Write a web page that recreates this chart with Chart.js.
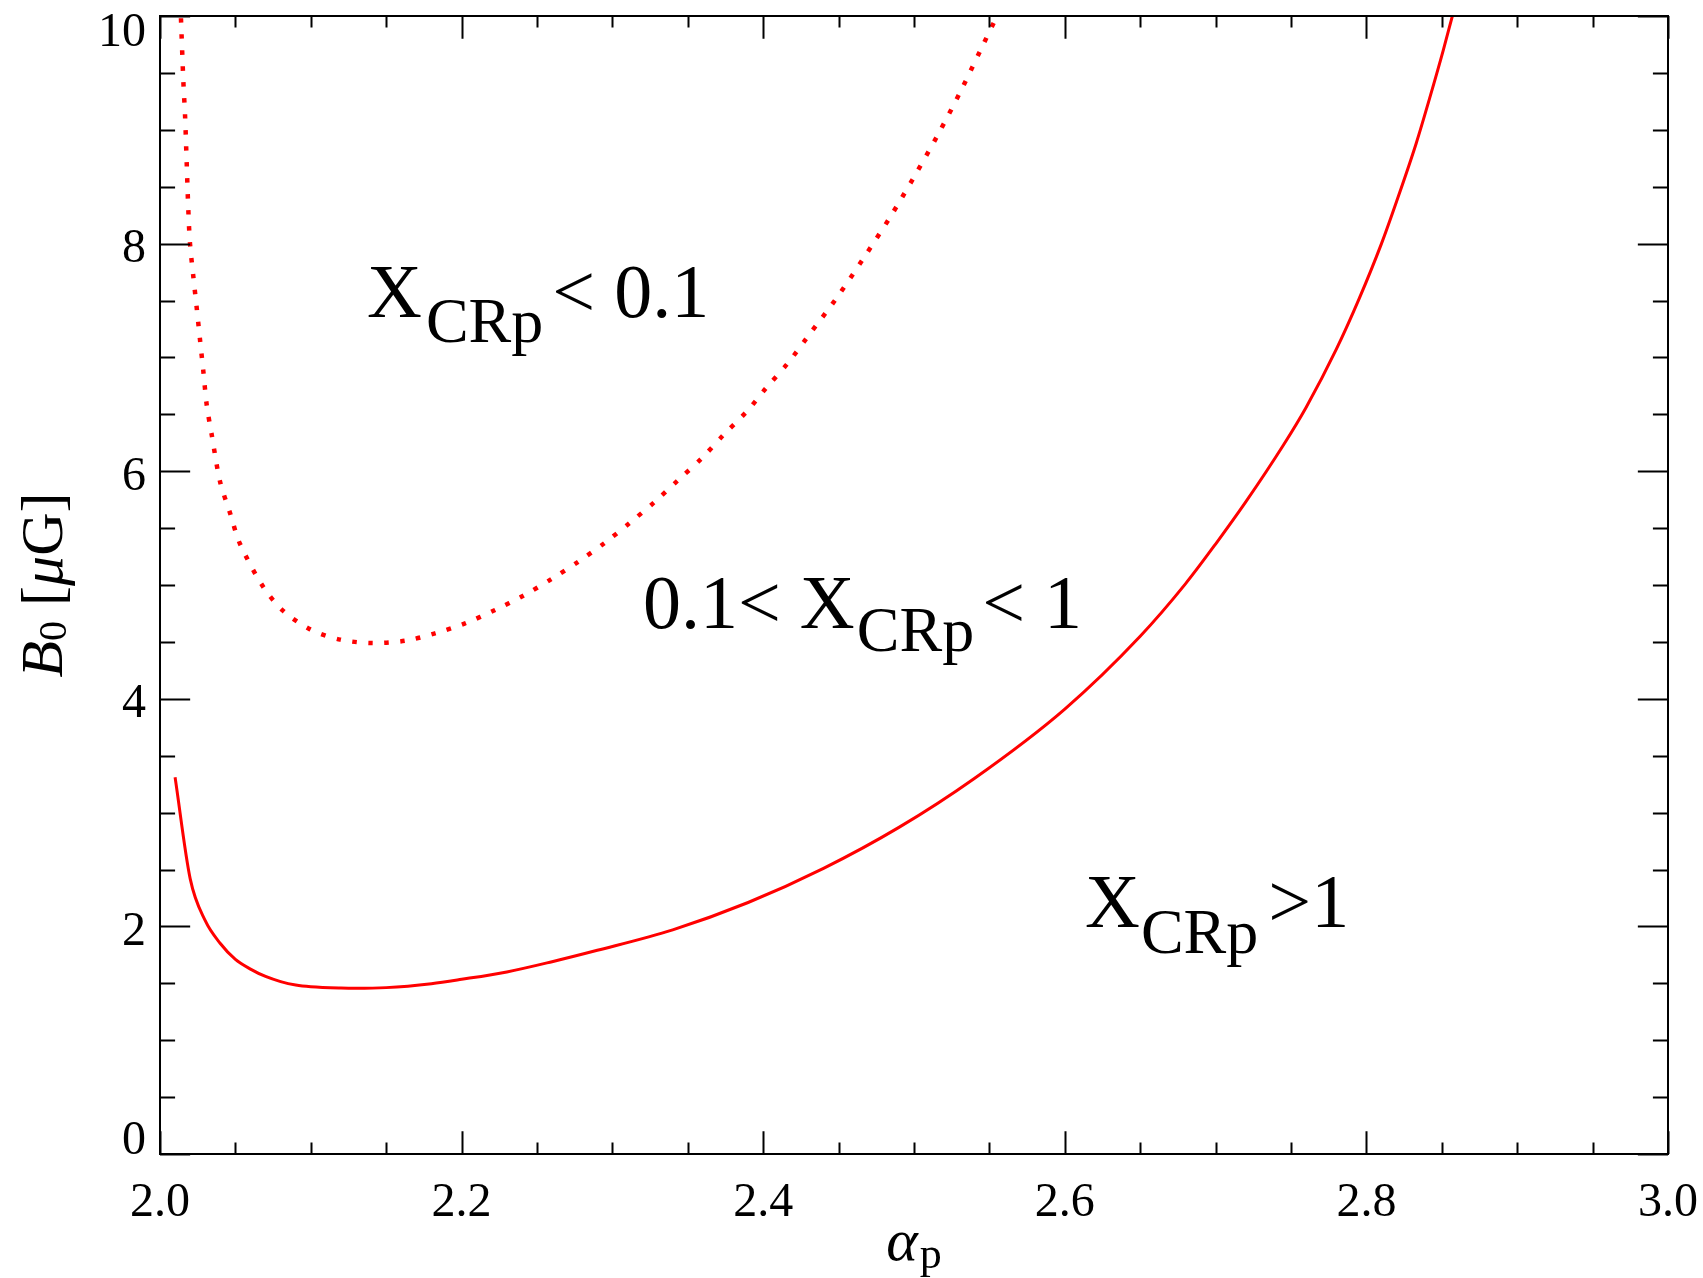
<!DOCTYPE html>
<html>
<head>
<meta charset="utf-8">
<title>B0 vs alpha_p</title>
<script src="https://cdn.jsdelivr.net/npm/chart.js@4.4.1/dist/chart.umd.min.js"></script>
<style>
    html, body { margin: 0; padding: 0; background: #ffffff; }
    #wrap { width: 1703px; height: 1278px; }
</style>
</head>
<body>
<div id="wrap"><canvas id="bChart" width="1703" height="1278"></canvas></div>
<script>
// solid curve: X_CRp = 1
const alphaSolid = [2.01, 2.02, 2.03, 2.04, 2.05, 2.06, 2.07, 2.08, 2.09, 2.10, 2.12, 2.13, 2.15, 2.18, 2.20,
    2.23, 2.26, 2.29, 2.34, 2.39, 2.44, 2.49, 2.54, 2.60, 2.65, 2.68, 2.70, 2.72, 2.745, 2.76, 2.78,
    2.795, 2.81, 2.82, 2.833, 2.842, 2.851, 2.857];
const bSolid = [3.31, 2.42, 2.05, 1.85, 1.71, 1.625, 1.56, 1.515, 1.485, 1.47, 1.458, 1.456, 1.462, 1.497, 1.535,
    1.60, 1.69, 1.79, 1.97, 2.21, 2.51, 2.87, 3.30, 3.91, 4.55, 5.01, 5.36, 5.73, 6.23, 6.56, 7.07,
    7.51, 8.00, 8.37, 8.88, 9.28, 9.70, 10.0];

// dotted curve: X_CRp = 0.1
const alphaDotted = [2.0139, 2.0155, 2.0166, 2.0177, 2.0188, 2.0199, 2.0221, 2.0243, 2.0265, 2.0288, 2.031,
    2.0343, 2.0398, 2.0465, 2.0531, 2.0686, 2.0819, 2.0996, 2.1195, 2.1405, 2.1626, 2.1824, 2.2023,
    2.2222, 2.2409, 2.2597, 2.2774, 2.2951, 2.3117, 2.3282, 2.3437, 2.3592, 2.3736, 2.389, 2.4023,
    2.4166, 2.4295, 2.4487, 2.4666, 2.4841, 2.5004, 2.5161, 2.5309, 2.5449, 2.5542];
const bDotted = [9.98, 9.42, 9.13, 8.71, 8.29, 8.0, 7.71, 7.44, 7.16, 6.87, 6.58,
    6.32, 5.91, 5.63, 5.36, 4.98, 4.77, 4.61, 4.52, 4.49, 4.51, 4.575, 4.663,
    4.78, 4.906, 5.053, 5.205, 5.372, 5.548, 5.732, 5.923, 6.113, 6.318, 6.523, 6.737,
    6.953, 7.182, 7.522, 7.873, 8.231, 8.594, 8.963, 9.338, 9.722, 9.976];

const xTickValues = [2.0, 2.2, 2.4, 2.6, 2.8, 3.0];
const xTickLabels = ['2.0', '2.2', '2.4', '2.6', '2.8', '3.0'];
const yTickValues = [0, 2, 4, 6, 8, 10];
const yTickLabels = ['0', '2', '4', '6', '8', '10'];

const SERIF = '"Liberation Serif", "Times New Roman", Times, serif';

function toPoints(xs, ys) {
    return xs.map(function(x, i) { return { x: x, y: ys[i] }; });
}

// draws a run of text pieces (main text, subscripts) one after the other
function drawRich(ctx, x, y, parts) {
    let cx = x;
    parts.forEach(function(p) {
        cx += p.gap || 0;
        ctx.font = p.font;
        ctx.fillText(p.t, cx, y + (p.dy || 0));
        cx += ctx.measureText(p.t).width;
    });
    return cx - x;
}

function richWidth(ctx, parts) {
    let w = 0;
    parts.forEach(function(p) {
        ctx.font = p.font;
        w += (p.gap || 0) + ctx.measureText(p.t).width;
    });
    return w;
}

const MAIN = '76px ' + SERIF;
const SUB = '64px ' + SERIF;

const annotations = [
    { x: 2.1373, y: 7.358, parts: [
        { t: 'X', font: MAIN }, { t: 'CRp', font: SUB, dy: 25, gap: 4 },
        { t: '<', font: MAIN, gap: 9 }, { t: ' 0.1', font: MAIN }] },
    { x: 2.3203, y: 4.62, parts: [
        { t: '0.1<', font: MAIN }, { t: ' X', font: MAIN }, { t: 'CRp', font: SUB, dy: 23, gap: 2 },
        { t: '<', font: MAIN, gap: 8 }, { t: ' 1', font: MAIN }] },
    { x: 2.6134, y: 1.997, parts: [
        { t: 'X', font: MAIN }, { t: 'CRp', font: SUB, dy: 26, gap: 1 },
        { t: '>1', font: MAIN, gap: 10 }] }
];

const framePlugin = {
    id: 'idlFrame',
    afterDatasetsDraw: function(chart) {
        const ctx = chart.ctx;
        const a = chart.chartArea;
        const xs = chart.scales.x;
        const ys = chart.scales.y;
        ctx.save();
        ctx.strokeStyle = '#000000';
        ctx.fillStyle = '#000000';
        ctx.lineWidth = 2;
        ctx.strokeRect(a.left, a.top, a.right - a.left, a.bottom - a.top);

        const xMajor = 0.02 * (a.bottom - a.top);
        const yMajor = 0.02 * (a.right - a.left);

        ctx.beginPath();
        for (let i = 0; i <= 20; i++) {
            const v = 2 + i * 0.05;
            const px = Math.round(xs.getPixelForValue(v)) + 0.5;
            const len = (i % 4 === 0) ? xMajor : xMajor / 2;
            ctx.moveTo(px, a.bottom); ctx.lineTo(px, a.bottom - len);
            ctx.moveTo(px, a.top); ctx.lineTo(px, a.top + len);
        }
        for (let i = 0; i <= 20; i++) {
            const v = i * 0.5;
            const py = Math.round(ys.getPixelForValue(v)) + 0.5;
            const len = (i % 4 === 0) ? yMajor : yMajor / 2;
            ctx.moveTo(a.left, py); ctx.lineTo(a.left + len, py);
            ctx.moveTo(a.right, py); ctx.lineTo(a.right - len, py);
        }
        ctx.stroke();

        // tick labels
        ctx.font = '48px ' + SERIF;
        ctx.textBaseline = 'alphabetic';
        ctx.textAlign = 'center';
        xTickValues.forEach(function(v, i) {
            ctx.fillText(xTickLabels[i], xs.getPixelForValue(v), a.bottom + 62);
        });
        ctx.textAlign = 'right';
        yTickValues.forEach(function(v, i) {
            const py = ys.getPixelForValue(v);
            const base = Math.min(Math.max(py + 18.5, a.top + 30), a.bottom);
            ctx.fillText(yTickLabels[i], a.left - 14, base);
        });

        // x title: alpha_p
        ctx.textAlign = 'left';
        const xt = [
            { t: 'α', font: 'italic 60px ' + SERIF },
            { t: 'p', font: '44px ' + SERIF, dy: 8, gap: 2 }
        ];
        const xw = richWidth(ctx, xt);
        drawRich(ctx, (a.left + a.right) / 2 - xw / 2, 1260, xt);

        // y title: B_0 [mu G]
        const yt = [
            { t: 'B', font: 'italic 60px ' + SERIF },
            { t: '0', font: '40px ' + SERIF, dy: 4 },
            { t: ' [', font: '60px ' + SERIF },
            { t: 'μ', font: 'italic 60px ' + SERIF },
            { t: 'G]', font: '60px ' + SERIF }
        ];
        const yw = richWidth(ctx, yt);
        ctx.save();
        ctx.translate(62, (a.top + a.bottom) / 2);
        ctx.rotate(-Math.PI / 2);
        drawRich(ctx, -yw / 2, 0, yt);
        ctx.restore();

        // region labels
        annotations.forEach(function(an) {
            drawRich(ctx, xs.getPixelForValue(an.x), ys.getPixelForValue(an.y), an.parts);
        });
        ctx.restore();
    }
};

const ctx = document.getElementById('bChart').getContext('2d');
const chart = new Chart(ctx, {
    type: 'scatter',
    data: {
        datasets: [{
            label: 'X_CRp = 1',
            data: toPoints(alphaSolid, bSolid),
            showLine: true,
            borderColor: '#ff0000',
            borderWidth: 3,
            pointRadius: 0,
            cubicInterpolationMode: 'monotone'
        }, {
            label: 'X_CRp = 0.1',
            data: toPoints(alphaDotted, bDotted),
            showLine: true,
            borderColor: '#ff0000',
            borderWidth: 4.5,
            borderDash: [4.5, 11.5],
            borderCapStyle: 'butt',
            pointRadius: 0,
            tension: 0.3
        }]
    },
    options: {
        responsive: false,
        animation: false,
        layout: {
            padding: { left: 160, top: 16, right: 35, bottom: 124 }
        },
        scales: {
            x: { type: 'linear', min: 2, max: 3, display: false },
            y: { type: 'linear', min: 0, max: 10, display: false }
        },
        plugins: {
            legend: { display: false },
            tooltip: { enabled: false }
        }
    },
    plugins: [framePlugin]
});
</script>
</body>
</html>
